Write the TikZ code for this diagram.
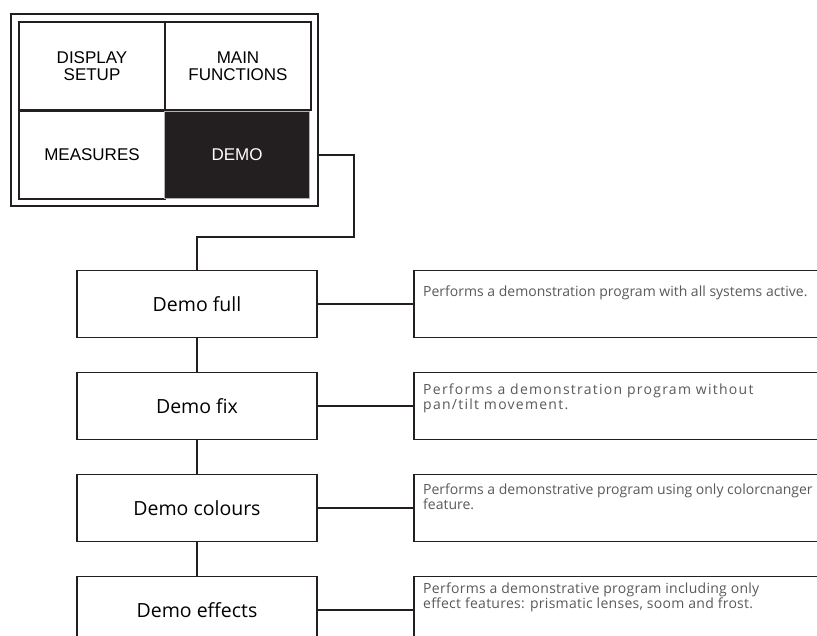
\documentclass[tikz,border=0pt]{standalone}
\usepackage{fontspec}
\setmainfont{Open Sans}
\newfontfamily\panelfont{Liberation Sans}
\usepackage{tikz}

\definecolor{ink}{HTML}{231F20}

\tikzset{
  cell/.style={draw=ink, line width=1.2pt, minimum width=146pt, minimum height=88pt,
    inner sep=0pt, align=center, font=\panelfont\fontsize{17}{17}\selectfont},
  demobox/.style={draw=ink, line width=1.6pt, minimum width=240pt, minimum height=67pt,
    font=\fontsize{19.5}{19}\selectfont},
  descbox/.style={draw=ink, line width=1.6pt, minimum width=420pt, minimum height=67pt, anchor=west},
  desctext/.style={anchor=north west, align=left, inner sep=0pt, text=black!65,
    font=\fontsize{14}{14.5}\selectfont},
  link/.style={draw=ink, line width=1.6pt}
}

\begin{document}
\begin{tikzpicture}[x=1pt,y=-1pt]
\useasboundingbox (0,0) rectangle (817,635);
% menu panel
\node[draw=ink, line width=1.5pt, minimum width=307pt, minimum height=192pt] (panel) at (164.5,110) {};
\node[cell] (disp) at (92,66) {DISPLAY\\SETUP};
\node[cell] (main) at (238,66) {MAIN\\FUNCTIONS};
\node[cell] (meas) at (92,155) {MEASURES};
\node[cell, fill=ink, draw=black!30, text=white, minimum width=145pt, minimum height=87pt] (demo) at (237,155) {DEMO};
% demo entries
\node[demobox] (full) at (197,304) {Demo full};
\node[demobox] (fix) at (197,406) {Demo fix};
\node[demobox] (col) at (197,508) {Demo colours};
\node[demobox] (eff) at (197,610) {Demo effects};
\node[descbox] (dfull) at (413,304) {};
\node[descbox] (dfix) at (413,406) {};
\node[descbox] (dcol) at (413,508) {};
\node[descbox] (deff) at (413,610) {};
\node[desctext] (tfull) at ([xshift=10,yshift=-16]dfull.north west) {Performs a demonstration program with all systems active.};
\node[desctext, font=\fontsize{14}{14.5}\selectfont\addfontfeature{LetterSpace=9}] (tfix) at ([xshift=10,yshift=-12]dfix.north west) {Performs a demonstration program without\\pan/tilt movement.};
\node[desctext] (tcol) at ([xshift=10,yshift=-10]dcol.north west) {Performs a demonstrative program using only colorcnanger\\feature.};
\node[desctext, font=\fontsize{14}{14.5}\selectfont\addfontfeature{LetterSpace=2}] (teff) at ([xshift=10,yshift=-7]deff.north west) {Performs a demonstrative program including only\\effect features: prismatic lenses, soom and frost.};
% links
\coordinate (bend) at (354,237);
\draw[link] (panel.east |- demo.east) -| (bend) -| (full.north);
\draw[link] (full) -- (fix);
\draw[link] (fix) -- (col);
\draw[link] (col) -- (eff);
\draw[link] (full) -- (dfull);
\draw[link] (fix) -- (dfix);
\draw[link] (col) -- (dcol);
\draw[link] (eff) -- (deff);
\end{tikzpicture}
\end{document}
